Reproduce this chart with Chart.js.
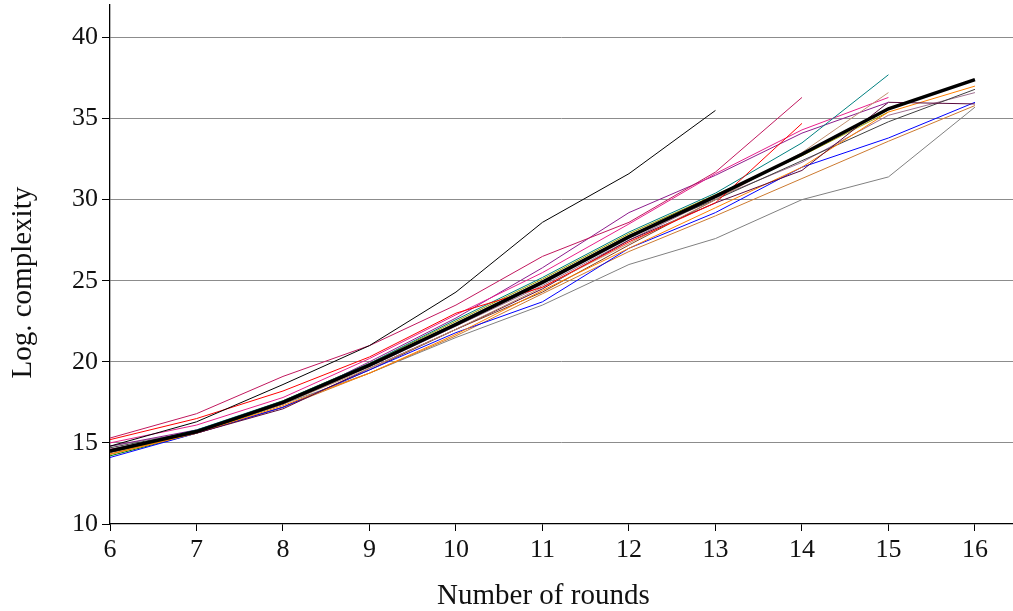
<!DOCTYPE html>
<html>
<head>
<meta charset="utf-8">
<script src="https://cdn.jsdelivr.net/npm/chart.js@4"></script>
<style>
  html, body { margin: 0; padding: 0; background: #fff; }
  #wrap { width: 1013px; height: 611px; }
</style>
</head>
<body>
<div id="wrap"><canvas id="chart"></canvas></div>
<script>
// x values (number of rounds)
var rounds = [6, 7, 8, 9, 10, 11, 12, 13, 14, 15, 16];
var yTicks = [10, 15, 20, 25, 30, 35, 40];

// log complexity per series
var meanLine = [14.5, 15.7, 17.5, 19.8, 22.3, 24.9, 27.7, 30.2, 32.8, 35.6, 37.4];
var blackThin = [14.8, 16.3, 18.6, 21.0, 24.3, 28.6, 31.6, 35.5];
var crimson = [15.3, 16.8, 19.1, 21.0, 23.5, 26.5, 28.6, 31.7, 36.3];
var red = [15.2, 16.5, 18.2, 20.3, 23.0, 24.6, 27.4, 29.8, 34.7];
var teal = [14.5, 15.8, 17.6, 19.9, 22.6, 25.2, 28.0, 30.4, 33.5, 37.7];
var tan = [14.5, 15.7, 17.4, 19.6, 22.0, 24.6, 27.3, 30.0, 32.9, 36.6];
var magenta = [15.0, 16.1, 17.8, 20.2, 22.9, 25.5, 28.5, 31.6, 34.3, 36.3];
var purple = [14.8, 15.8, 17.4, 20.0, 22.7, 25.8, 29.2, 31.5, 34.1, 36.0];
var maroon = [14.6, 15.6, 17.1, 19.6, 22.0, 24.5, 27.5, 29.8, 31.8, 36.0, 35.9];
var orange = [14.3, 15.6, 17.3, 19.3, 21.7, 24.4, 27.0, 29.5, 32.0, 35.4, 37.0];
var blue = [14.1, 15.6, 17.2, 19.5, 21.8, 23.7, 27.0, 29.2, 32.0, 33.8, 36.0];
var peru = [14.3, 15.6, 17.2, 19.3, 21.6, 24.2, 26.8, 29.0, 31.3, 33.6, 35.8];
var gray = [14.8, 15.7, 17.4, 19.3, 21.5, 23.5, 26.0, 27.6, 30.0, 31.4, 35.7];
var darkgray = [14.7, 15.7, 17.5, 19.8, 22.4, 25.0, 27.8, 30.0, 32.4, 34.8, 36.8];
var mauve = [14.6, 15.7, 17.4, 19.7, 22.2, 24.7, 27.5, 30.1, 32.3, 35.2, 36.6];
var olive = [14.3, 15.7, 17.6, 19.9, 22.5, 25.1, 27.9, 30.3, 32.7, 35.4];
var green = [14.2, 15.6, 17.4, 19.8, 22.3, 24.9, 27.7];
var brown = [14.4, 15.6, 17.2, 19.5, 22.0, 24.3, 27.2, 30.0];

function pts(vals) {
    return vals.map(function (v, i) { return { x: rounds[i], y: v }; });
}

function line(vals, color, width) {
    return {
        data: pts(vals),
        borderColor: color,
        backgroundColor: color,
        borderWidth: width || 1,
        pointRadius: 0,
        tension: 0,
        fill: false
    };
}

var serif = "'Liberation Serif', 'DejaVu Serif', serif";

new Chart(document.getElementById("chart"), {
    type: 'line',
    data: {
        datasets: [
            line(meanLine, '#000000', 3.5),
            line(blackThin, '#000000'),
            line(crimson, '#c0185e'),
            line(red, '#ff0000'),
            line(teal, '#008080'),
            line(tan, '#c09070'),
            line(magenta, '#e8208c'),
            line(purple, '#8c1c8c'),
            line(maroon, '#5a0a3c'),
            line(orange, '#ff8000'),
            line(blue, '#0000ff'),
            line(peru, '#cc7a30'),
            line(gray, '#808080'),
            line(darkgray, '#404040'),
            line(mauve, '#a07090'),
            line(olive, '#a0a000'),
            line(green, '#008000'),
            line(brown, '#804020')
        ]
    },
    options: {
        responsive: true,
        maintainAspectRatio: false,
        animation: false,
        layout: { padding: { top: 5, right: 0, left: 0, bottom: 0 } },
        plugins: { legend: { display: false }, tooltip: { enabled: false } },
        scales: {
            x: {
                type: 'linear',
                min: 6,
                max: 16.44,
                afterBuildTicks: function (ax) {
                    ax.ticks = rounds.map(function (r) { return { value: r }; });
                },
                afterFit: function (ax) {
                    ax.height = 87;
                    ax.paddingLeft = 0;
                    ax.paddingRight = 0;
                },
                border: { color: '#000', width: 1.3 },
                grid: { drawOnChartArea: false, tickLength: 7, tickColor: '#000', tickWidth: 1 },
                ticks: { color: '#111', padding: 4, font: { family: serif, size: 26 } },
                title: {
                    display: true,
                    // trailing spaces pull the centred label over the 6..16 span
                    text: 'Number of rounds     ',
                    color: '#111',
                    padding: { top: 0, bottom: 0 },
                    font: { family: serif, size: 29, lineHeight: 1.0 }
                }
            },
            y: {
                min: 10,
                max: 42,
                afterBuildTicks: function (ax) {
                    ax.ticks = yTicks.map(function (t) { return { value: t }; });
                },
                afterFit: function (ax) {
                    ax.width = 110;
                    ax.paddingTop = 0;
                    ax.paddingBottom = 0;
                },
                border: { color: '#000', width: 1.3 },
                grid: {
                    color: function (c) { return c.tick && c.tick.value === 10 ? 'rgba(0,0,0,0)' : '#8c8c8c'; },
                    lineWidth: 1,
                    tickLength: 8,
                    tickColor: '#000'
                },
                ticks: { color: '#111', padding: 4, font: { family: serif, size: 26 } },
                title: {
                    display: true,
                    text: 'Log. complexity     ',
                    color: '#111',
                    padding: { top: 6, bottom: 0 },
                    font: { family: serif, size: 29 }
                }
            }
        }
    }
});
</script>
</body>
</html>
